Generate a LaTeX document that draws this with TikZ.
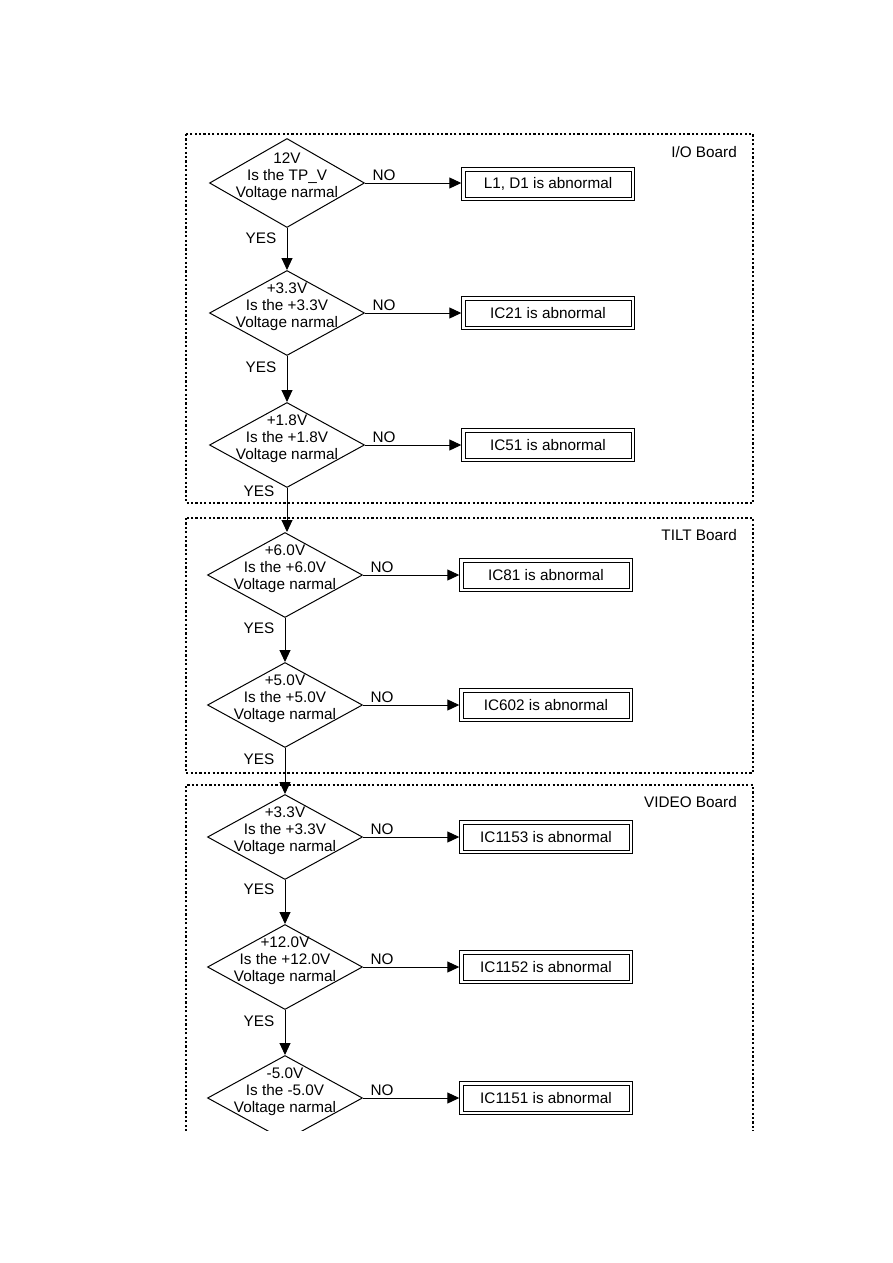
\documentclass[tikz,border=0pt]{standalone}
\usepackage{fontspec}
\setmainfont{Liberation Sans}
\usetikzlibrary{arrows.meta, positioning, shapes.geometric}

\begin{document}
\begin{tikzpicture}[x=1pt, y=-1pt,
    every node/.style={font=\fontsize{15.3}{17}\selectfont},
    board/.style={line width=1.6pt, dash pattern=on 2.2pt off 2.2pt},
    test/.style={draw, diamond, line width=1pt, inner sep=0pt,
                 minimum width=155pt, minimum height=85pt},
    qtext/.style={align=center, inner sep=0pt, yshift=6pt},
    fault/.style={draw, line width=1pt, minimum width=166pt, minimum height=26pt,
                  inner sep=0pt,
                  append after command={\pgfextra{\draw[line width=1pt]
                    ([shift={(-3.2pt,-3.2pt)}]\tikzlastnode.south west) rectangle
                    ([shift={(3.2pt,3.2pt)}]\tikzlastnode.north east);}}},
    flow/.style={line width=1pt, -{Triangle[length=12pt, width=11pt]}},
    answer/.style={inner sep=0pt}]

\useasboundingbox (0,0) rectangle (893,1263);
\clip (0,0) rectangle (893,1130);

% Boards
\draw[board] (186,134) rectangle (753,503);
\node[answer, anchor=east] (ioname) at (737,152) {I/O Board};
\draw[board] (186,518) rectangle (753,773);
\node[answer, anchor=east] (tiltname) at (737,535) {TILT Board};
\draw[board] (186,1140) -- (186,785) -- (753,785) -- (753,1140);
\node[answer, anchor=east] (videoname) at (737,802) {VIDEO Board};

% I/O Board: 12V
\node[test, minimum height=89pt] (d1) at (287,183) {};
\node[qtext] (q1) at (d1) {12V\\Is the TP\_V\\Voltage narmal};
\node[fault] (f1) at (548,184) {L1, D1 is abnormal};
\draw[flow, shorten >=3.2pt] (d1.east) -- (d1.east -| f1.west);
\node[answer] (no1) at (384,175) {NO};

% I/O Board: +3.3V
\node[test] (d2) at (287,313) {};
\node[qtext] (q2) at (d2) {+3.3V\\Is the +3.3V\\Voltage narmal};
\node[fault] (f2) at (548,313) {IC21 is abnormal};
\draw[flow, shorten >=3.2pt] (d2.east) -- (d2.east -| f2.west);
\node[answer] (no2) at (384,305) {NO};
\draw[flow] (d1.south) -- (d2.north);
\node[answer] (yes1) at (261,238) {YES};

% I/O Board: +1.8V
\node[test] (d3) at (287,445) {};
\node[qtext] (q3) at (d3) {+1.8V\\Is the +1.8V\\Voltage narmal};
\node[fault] (f3) at (548,445) {IC51 is abnormal};
\draw[flow, shorten >=3.2pt] (d3.east) -- (d3.east -| f3.west);
\node[answer] (no3) at (384,437) {NO};
\draw[flow] (d2.south) -- (d2.south |- d3.north);
\node[answer] (yes2) at (261,367) {YES};

% TILT Board: +6.0V
\node[test] (d4) at (285,575) {};
\node[qtext] (q4) at (d4) {+6.0V\\Is the +6.0V\\Voltage narmal};
\node[fault] (f4) at (546,575) {IC81 is abnormal};
\draw[flow, shorten >=3.2pt] (d4.east) -- (d4.east -| f4.west);
\node[answer] (no4) at (382,567) {NO};
\draw[flow] (d3.south) -- (d3.south |- d4.north);
\node[answer] (yes3) at (259,491) {YES};

% TILT Board: +5.0V
\node[test] (d5) at (285,705) {};
\node[qtext] (q5) at (d5) {+5.0V\\Is the +5.0V\\Voltage narmal};
\node[fault] (f5) at (546,705) {IC602 is abnormal};
\draw[flow, shorten >=3.2pt] (d5.east) -- (d5.east -| f5.west);
\node[answer] (no5) at (382,697) {NO};
\draw[flow] (d4.south) -- (d5.north);
\node[answer] (yes4) at (259,628) {YES};

% VIDEO Board: +3.3V
\node[test] (d6) at (285,837) {};
\node[qtext] (q6) at (d6) {+3.3V\\Is the +3.3V\\Voltage narmal};
\node[fault] (f6) at (546,837) {IC1153 is abnormal};
\draw[flow, shorten >=3.2pt] (d6.east) -- (d6.east -| f6.west);
\node[answer] (no6) at (382,829) {NO};
\draw[flow] (d5.south) -- (d6.north);
\node[answer] (yes5) at (259,759) {YES};

% VIDEO Board: +12.0V
\node[test] (d7) at (285,967) {};
\node[qtext] (q7) at (d7) {+12.0V\\Is the +12.0V\\Voltage narmal};
\node[fault] (f7) at (546,967) {IC1152 is abnormal};
\draw[flow, shorten >=3.2pt] (d7.east) -- (d7.east -| f7.west);
\node[answer] (no7) at (382,959) {NO};
\draw[flow] (d6.south) -- (d7.north);
\node[answer] (yes6) at (259,889) {YES};

% VIDEO Board: -5.0V
\node[test] (d8) at (285,1098) {};
\node[qtext] (q8) at (d8) {-5.0V\\Is the -5.0V\\Voltage narmal};
\node[fault] (f8) at (546,1098) {IC1151 is abnormal};
\draw[flow, shorten >=3.2pt] (d8.east) -- (d8.east -| f8.west);
\node[answer] (no8) at (382,1090) {NO};
\draw[flow] (d7.south) -- (d8.north);
\node[answer] (yes7) at (259,1021) {YES};

\end{tikzpicture}
\end{document}
